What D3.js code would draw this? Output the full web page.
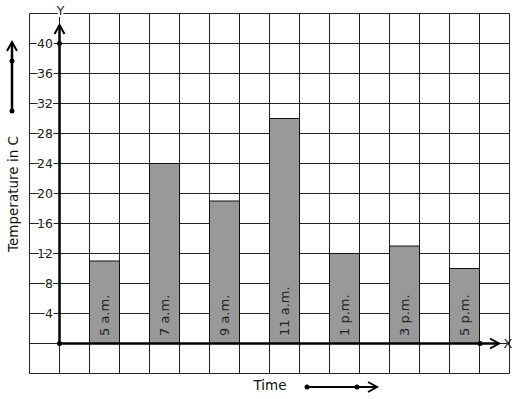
<!DOCTYPE html>
<html><head><meta charset="utf-8">
<script src="https://cdn.jsdelivr.net/npm/d3@7"></script>
<style>body{margin:0;background:#fff}svg{display:block}text{font-family:"DejaVu Sans",sans-serif}</style>
</head><body>
<svg id="c" width="517" height="399"></svg>
<script>
const categories = ["5 a.m.","7 a.m.","9 a.m.","11 a.m.","1 p.m.","3 p.m.","5 p.m."];
const temperatures = [11,24,19,30,12,13,10];
const yTicks = [4,8,12,16,20,24,28,32,36,40];
const yTitle = "Temperature in C";
const xTitle = "Time";

const svg = d3.select("#c");
// grid units: x from -1..15 (each unit = one grid column), y in temperature units
const x = d3.scaleLinear().domain([-1,15]).range([29.5,509.5]);
const y = d3.scaleLinear().domain([-4,44]).range([373.5,13.5]);
const gridStroke = "#222";

const g = svg.append("g");
// grid
g.selectAll("line.v").data(d3.range(-1,16)).join("line")
  .attr("x1",d=>x(d)).attr("x2",d=>x(d)).attr("y1",y(44)).attr("y2",y(-4))
  .attr("stroke",gridStroke).attr("stroke-width",1);
g.selectAll("line.h").data(d3.range(-4,45,4)).join("line")
  .attr("y1",d=>y(d)).attr("y2",d=>y(d)).attr("x1",x(-1)).attr("x2",x(15))
  .attr("stroke",gridStroke).attr("stroke-width",1);

// bars
const bars = g.selectAll("rect.bar").data(categories).join("rect")
  .attr("x",(d,i)=>x(2*i+1)).attr("width",x(2)-x(1))
  .attr("y",(d,i)=>y(temperatures[i])).attr("height",(d,i)=>y(0)-y(temperatures[i]))
  .attr("fill","#999").attr("stroke","#111").attr("stroke-width",1);

// bar labels
g.selectAll("text.bl").data(categories).join("text")
  .attr("transform",(d,i)=>`translate(${(x(2*i+1)+x(2*i+2))/2+4.5},${y(1)}) rotate(-90)`)
  .attr("font-size",13).attr("fill","#222").text(d=>d);

// y tick labels
g.selectAll("text.yt").data(yTicks).join("text")
  .attr("x",53).attr("y",d=>y(d)).attr("dy","0.36em").attr("text-anchor","end")
  .attr("font-size",12.5).attr("fill","#222")
  .attr("stroke","#fff").attr("stroke-width",3).attr("paint-order","stroke")
  .text(d=>d);

// axes
const axW = 2.5;
g.append("line").attr("x1",x(0)).attr("x2",499).attr("y1",y(0)).attr("y2",y(0)).attr("stroke","#000").attr("stroke-width",axW);
g.append("line").attr("x1",x(0)).attr("x2",x(0)).attr("y1",y(0)).attr("y2",25).attr("stroke","#000").attr("stroke-width",axW);
// arrowheads
g.append("path").attr("d",`M490,${y(0)-5}L499,${y(0)}L490,${y(0)+5}`).attr("fill","none").attr("stroke","#000").attr("stroke-width",2);
g.append("path").attr("d",`M${x(0)-5},34L${x(0)},25L${x(0)+5},34`).attr("fill","none").attr("stroke","#000").attr("stroke-width",2);
// dots
[[x(0),y(0)],[x(0),y(40)],[480,y(0)]].forEach(p=>g.append("circle").attr("cx",p[0]).attr("cy",p[1]).attr("r",2.5).attr("fill","#000"));

// axis letters
g.append("text").attr("x",x(0)+1).attr("y",15).attr("text-anchor","middle").attr("font-size",13).attr("fill","#222")
  .attr("stroke","#fff").attr("stroke-width",4).attr("paint-order","stroke").text("Y");
g.append("text").attr("x",508).attr("y",y(0)).attr("dy","0.36em").attr("text-anchor","middle").attr("font-size",13).attr("fill","#222").text("X");

// titles
g.append("text").attr("transform","translate(18,194) rotate(-90)").attr("text-anchor","middle").attr("font-size",13.5).attr("fill","#111").text(yTitle);
g.append("text").attr("x",270).attr("y",390).attr("text-anchor","middle").attr("font-size",13.5).attr("fill","#111").text(xTitle);

// side arrows
g.append("line").attr("x1",12).attr("x2",12).attr("y1",111).attr("y2",42).attr("stroke","#000").attr("stroke-width",2.5);
g.append("path").attr("d","M7,51L12,42L17,51").attr("fill","none").attr("stroke","#000").attr("stroke-width",2);
[[12,61],[12,111]].forEach(p=>g.append("circle").attr("cx",p[0]).attr("cy",p[1]).attr("r",2.5).attr("fill","#000"));
g.append("line").attr("x1",307).attr("x2",377).attr("y1",387).attr("y2",387).attr("stroke","#000").attr("stroke-width",2);
g.append("path").attr("d","M368,382L377,387L368,392").attr("fill","none").attr("stroke","#000").attr("stroke-width",2);
[[307,387],[357,387]].forEach(p=>g.append("circle").attr("cx",p[0]).attr("cy",p[1]).attr("r",2.5).attr("fill","#000"));
</script>
</body></html>
